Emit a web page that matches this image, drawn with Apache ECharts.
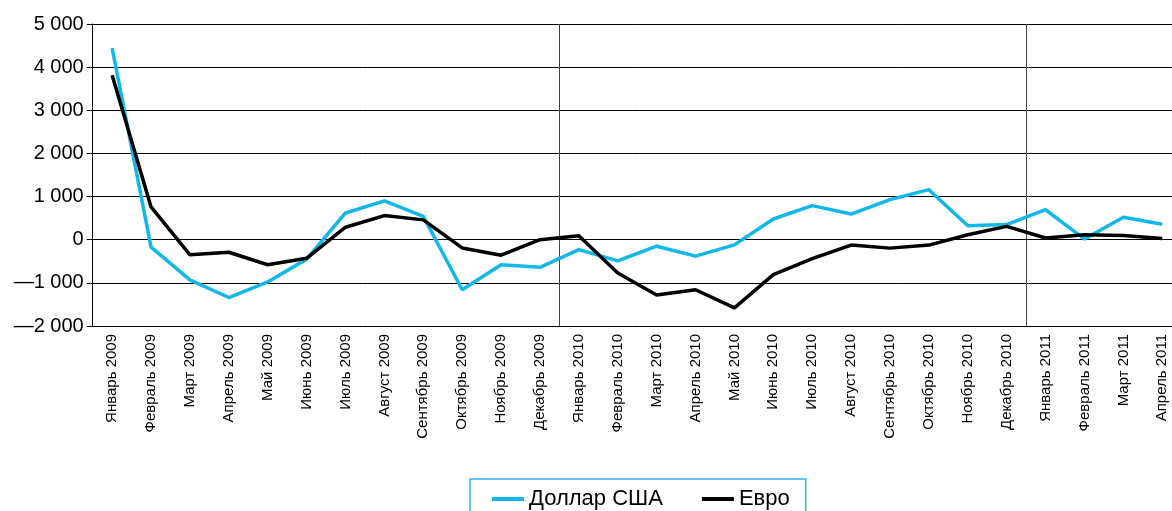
<!DOCTYPE html>
<html>
<head>
<meta charset="UTF-8">
<title>Доллар США / Евро</title>
<script src="https://cdn.jsdelivr.net/npm/echarts@6/dist/echarts.min.js"></script>
<style>
html,body{margin:0;padding:0;background:#fff;}
#chart{width:1172px;height:511px;}
</style>
</head>
<body>
<div id="chart"></div>
<script>
// месяцы
var months = ['Январь 2009','Февраль 2009','Март 2009','Апрель 2009','Май 2009','Июнь 2009',
  'Июль 2009','Август 2009','Сентябрь 2009','Октябрь 2009','Ноябрь 2009','Декабрь 2009',
  'Январь 2010','Февраль 2010','Март 2010','Апрель 2010','Май 2010','Июнь 2010',
  'Июль 2010','Август 2010','Сентябрь 2010','Октябрь 2010','Ноябрь 2010','Декабрь 2010',
  'Январь 2011','Февраль 2011','Март 2011','Апрель 2011'];
var usd = [4440,-170,-930,-1340,-980,-450,620,900,540,-1160,-580,-640,
  -230,-490,-150,-380,-120,480,790,595,930,1160,325,350,695,15,520,360];
var eur = [3810,760,-350,-290,-580,-430,290,560,460,-190,-360,0,
  90,-770,-1280,-1160,-1580,-810,-440,-125,-195,-125,115,310,40,115,100,30];
var yTicks = [-2000,-1000,0,1000,2000,3000,4000,5000];

var font = 'Liberation Sans, Arial, sans-serif';

function fmt(v){
  var s = String(Math.abs(v)).replace(/\B(?=(\d{3})+(?!\d))/g, ' ');
  return v < 0 ? '—' + s : s;
}

var myChart = echarts.init(document.getElementById('chart'));
var option = {
  animation: false,
  grid: { left: 92.7, top: 24, width: 1089, height: 302, outerBoundsMode: 'none', containLabel: false },
  legend: {
    left: 470, top: 479,
    data: ['Доллар США','Евро'],
    icon: 'rect', itemWidth: 32, itemHeight: 4, itemGap: 39,
    padding: [9, 16, 8, 22],
    borderColor: '#2ab4e6', borderWidth: 1.5,
    textStyle: { fontFamily: font, fontSize: 22, color: '#000' }
  },
  xAxis: {
    type: 'category',
    data: months,
    boundaryGap: true,
    axisLine: { lineStyle: { color: '#000', width: 1 } },
    axisTick: { length: 6, lineStyle: { color: '#000' } },
    axisLabel: { rotate: 90, margin: 8, interval: 0, fontFamily: font, fontSize: 15, color: '#000' },
    splitLine: {
      show: true,
      interval: function (i) { return i === 12 || i === 24; },
      lineStyle: { color: '#444', width: 1 }
    }
  },
  yAxis: {
    type: 'value',
    min: yTicks[0], max: yTicks[yTicks.length - 1], interval: 1000,
    axisLine: { show: true, lineStyle: { color: '#000', width: 1 } },
    axisTick: { show: true, length: 6, lineStyle: { color: '#000' } },
    axisLabel: { margin: 9, fontFamily: font, fontSize: 20, color: '#000', formatter: fmt },
    splitLine: { lineStyle: { color: '#000', width: 1 } }
  },
  series: [
    {
      name: 'Доллар США', type: 'line', data: usd,
      symbol: 'none', color: '#12b7ea',
      lineStyle: { width: 3.5, color: '#12b7ea' }
    },
    {
      name: 'Евро', type: 'line', data: eur,
      symbol: 'none', color: '#000',
      lineStyle: { width: 3.5, color: '#000' }
    }
  ]
};
myChart.setOption(option);
</script>
</body>
</html>
